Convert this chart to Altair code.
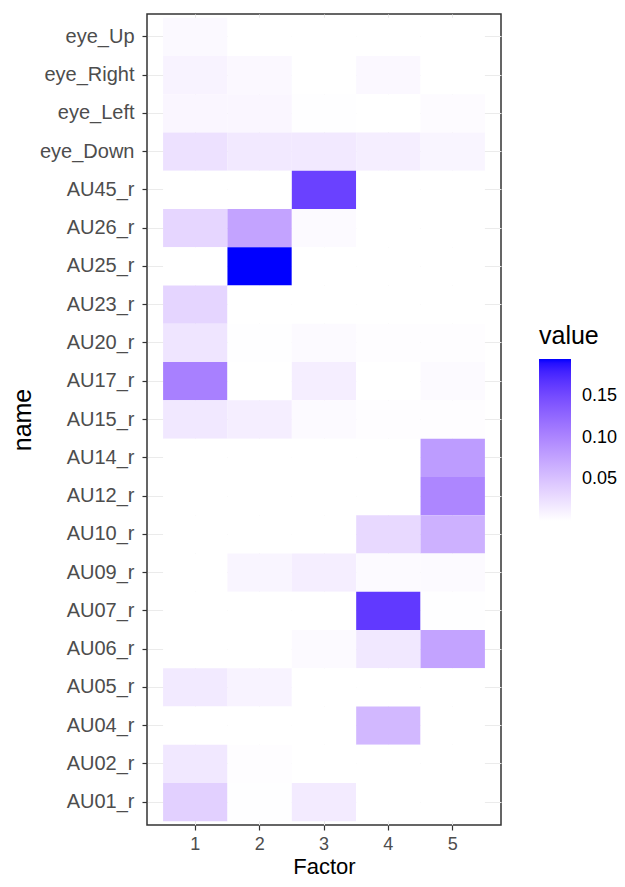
import altair as alt
import pandas as pd

# Row names, top to bottom as shown
names = ["eye_Up", "eye_Right", "eye_Left", "eye_Down", "AU45_r", "AU26_r", "AU25_r",
         "AU23_r", "AU20_r", "AU17_r", "AU15_r", "AU14_r", "AU12_r", "AU10_r",
         "AU09_r", "AU07_r", "AU06_r", "AU05_r", "AU04_r", "AU02_r", "AU01_r"]

factors = ["1", "2", "3", "4", "5"]

factor1 = [0.005, 0.010, 0.007, 0.024, 0.000, 0.033, 0.000, 0.034, 0.021, 0.105, 0.019,
           0.000, 0.000, 0.000, 0.000, 0.000, 0.000, 0.017, 0.000, 0.019, 0.038]
factor2 = [0.000, 0.006, 0.007, 0.018, 0.000, 0.076, 0.195, 0.000, 0.001, 0.000, 0.014,
           0.000, 0.000, 0.000, 0.008, 0.000, 0.000, 0.010, 0.000, 0.002, 0.001]
factor3 = [0.000, 0.000, 0.001, 0.018, 0.158, 0.004, 0.000, 0.000, 0.004, 0.014, 0.004,
           0.000, 0.000, 0.000, 0.014, 0.000, 0.004, 0.000, 0.000, 0.000, 0.016]
factor4 = [0.000, 0.006, 0.000, 0.014, 0.000, 0.000, 0.000, 0.000, 0.002, 0.000, 0.002,
           0.000, 0.000, 0.031, 0.004, 0.164, 0.019, 0.000, 0.058, 0.000, 0.000]
factor5 = [0.000, 0.000, 0.003, 0.008, 0.000, 0.000, 0.000, 0.000, 0.002, 0.004, 0.002,
           0.082, 0.100, 0.064, 0.004, 0.001, 0.076, 0.000, 0.000, 0.000, 0.000]

legend_ticks = [0.05, 0.10, 0.15]

cols = [factor1, factor2, factor3, factor4, factor5]
rows = []
for f, vals in zip(factors, cols):
    for n, v in zip(names, vals):
        rows.append({"Factor": f, "name": n, "value": v})
df = pd.DataFrame(rows)

chart = alt.Chart(df).mark_rect().encode(
    x=alt.X("Factor:O", sort=factors,
            scale=alt.Scale(paddingInner=0, paddingOuter=0.25),
            axis=alt.Axis(title="Factor", labelAngle=0)),
    y=alt.Y("name:N", sort=names,
            scale=alt.Scale(paddingInner=0, paddingOuter=0.1),
            axis=alt.Axis(title="name")),
    color=alt.Color("value:Q",
                    scale=alt.Scale(domain=[0, 0.195], range=["white", "blue"],
                                    interpolate="lab"),
                    legend=alt.Legend(title="value", orient="none",
                                      legendX=392, legendY=310,
                                      values=legend_ticks, format=".2f",
                                      gradientLength=162, gradientThickness=32,
                                      labelOffset=11, labelFontSize=18,
                                      labelOverlap=False)),
).properties(
    width=354, height=811,
    autosize=alt.AutoSizeParams(type="none"),
    padding={"left": 139, "top": 6, "right": 116, "bottom": 54},
).configure(
    font="Liberation Sans",
).configure_view(
    stroke="#333333", strokeWidth=1.5,
).configure_axis(
    domain=False, zindex=0,
    grid=True, gridColor="#EBEBEB", gridWidth=1,
    tickColor="#333333", tickSize=5, tickWidth=1.2,
    labelColor="#4D4D4D",
    titleFontWeight="normal", titleColor="black",
    tickBand="center",
).configure_axisX(
    labelFontSize=18, labelPadding=5,
    titleFontSize=22, titlePadding=3,
).configure_axisY(
    labelFontSize=20, labelPadding=8,
    titleFontSize=25, titlePadding=4,
).configure_legend(
    titleFontSize=25, titleFontWeight="normal", titleColor="black",
    labelColor="black",
    titlePadding=10, gradientStrokeWidth=0,
)

chart.save("out.html", embed_options={"renderer": "svg", "actions": False})
